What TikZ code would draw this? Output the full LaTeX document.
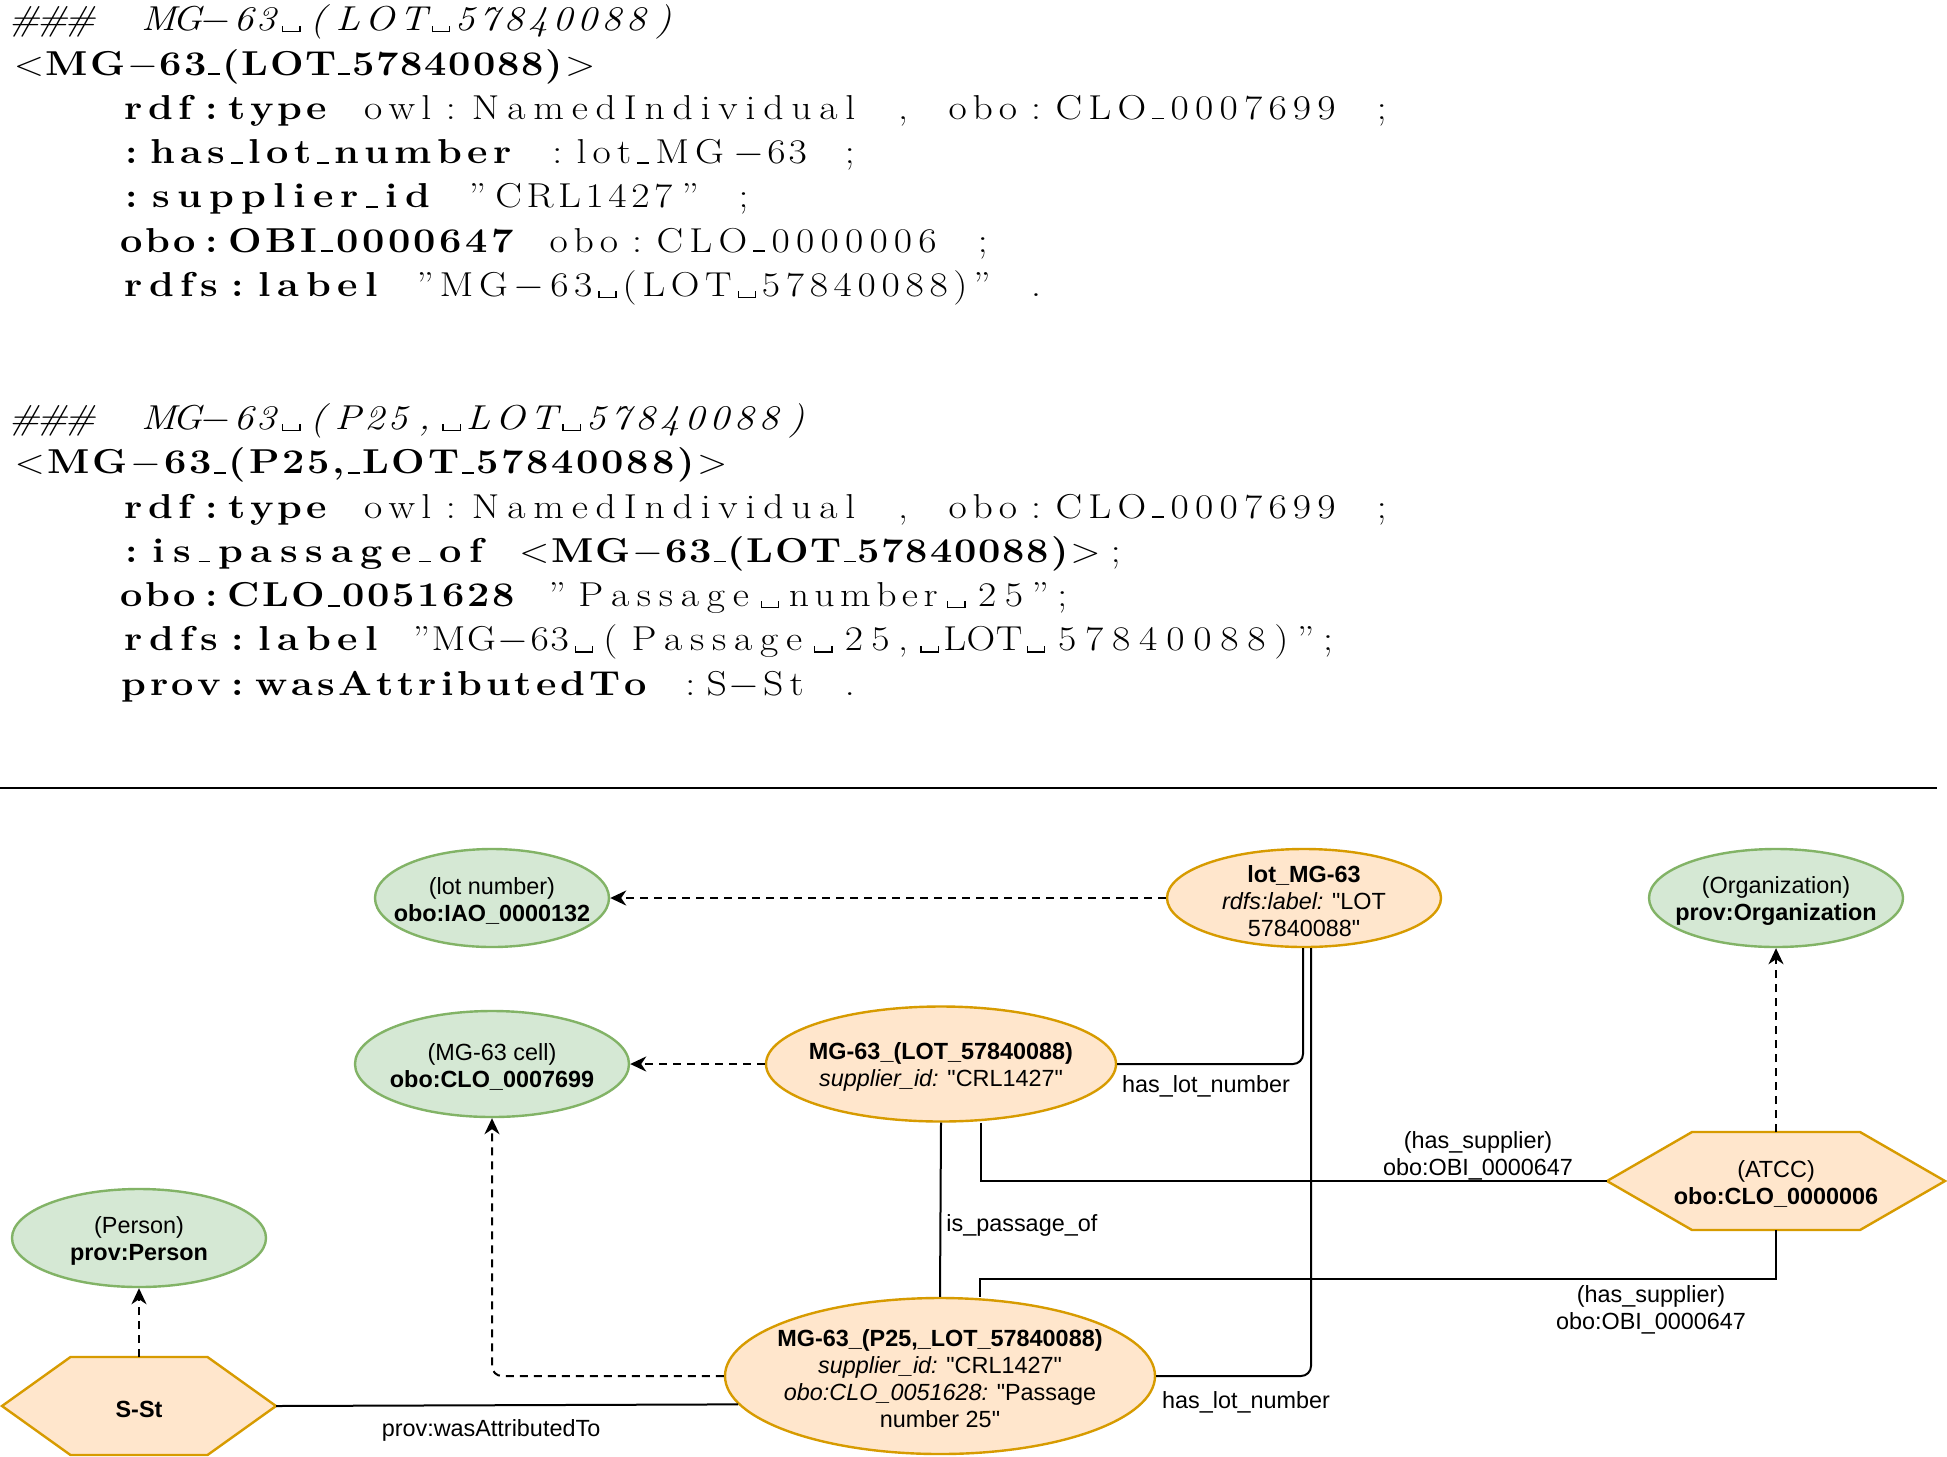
\documentclass[tikz,border=0pt]{standalone}
\usepackage{fontspec}
\usepackage{graphicx}
\newfontfamily\dio{Liberation Sans}
\usetikzlibrary{arrows.meta,shapes.geometric}
\definecolor{grnF}{HTML}{D5E8D4}
\definecolor{grnD}{HTML}{82B366}
\definecolor{ornF}{HTML}{FFE6CC}
\definecolor{ornD}{HTML}{D79B00}
\newlength\colw \setlength\colw{11.565pt}
\newcount\fwn
\makeatletter
% one listings token: n characters spread evenly over n fixed columns
\newcommand\fw[1]{\fwn=0 \@tfor\fw@c:=#1\do{\advance\fwn by 1 }\hbox to \fwn\colw{\hss\@tfor\fw@c:=#1\do{\fw@c\hss}}}
\makeatother
\newcommand\sk{\hbox to \colw{}}
\newcommand\mn{\ensuremath{-}}
\newcommand\myLT{\ensuremath{<}}
\newcommand\myGT{\ensuremath{>}}
\newcommand\us{\rule{0.3em}{0.05em}}
\newcommand\vs{\raisebox{-0.05em}{\rule{0.035em}{0.2em}\rule{0.4em}{0.035em}\rule{0.035em}{0.2em}}}
\newcommand\ind{\sk\sk\sk\sk}
\newcommand\stretched[1]{\scalebox{1.15}[1]{#1}}
\begin{document}
\begin{tikzpicture}[x=0.5pt,y=-0.5pt,
  code/.style={font=\fontsize{17.28}{22}\selectfont, inner sep=0pt, outer sep=0pt, anchor=base west},
  grn/.style={ellipse, draw=grnD, fill=grnF, line width=1.2pt, inner sep=0pt},
  orn/.style={ellipse, draw=ornD, fill=ornF, line width=1.2pt, inner sep=0pt},
  hexo/.style={draw=ornD, fill=ornF, line width=1.2pt},
  hexbox/.style={rectangle, draw=none, inner sep=0pt, outer sep=0pt},
  txt/.style={font=\dio\fontsize{11.7}{13.5}\selectfont, align=center, inner sep=0pt, yshift=-1.5pt},
  ln/.style={line width=1pt, draw=black},
  dsh/.style={ln, dash pattern=on 4pt off 3pt, -{Stealth[length=8pt,width=7.5pt,inset=2.5pt]}},
  lbl/.style={font=\dio\fontsize{11.7}{13.5}\selectfont, align=center, inner sep=0pt, yshift=-1.5pt}
]
\useasboundingbox (0,0) rectangle (1947,1456);
\fill[white] (0,0) rectangle (1947,1456);

% ---------- code listing ----------
\node[code] (c0) at (12,30.7) {\stretched{\itshape\fw{\#\#\#}\sk\sk\fw{MG}\fw{\mn63}\fw{\vs}\fw{(}\fw{LOT\vs57840088}\fw{)}}};
\node[code] (c1) at (12,75) {\stretched{\bfseries\fw{\myLT MG\mn63\us(LOT\us57840088)\myGT}}};
\node[code] (c2) at (12,119.3) {\stretched{\ind{\bfseries\fw{rdf}\fw{:}\fw{type}}\sk\fw{owl}\fw{:}\fw{NamedIndividual}\sk\fw{,}\sk\fw{obo}\fw{:}\fw{CLO\us0007699}\sk\fw{;}}};
\node[code] (c3) at (12,163.6) {\stretched{\ind{\bfseries\fw{:}\fw{has\us lot\us number}}\sk\fw{:}\fw{lot\us MG}\fw{\mn63}\sk\fw{;}}};
\node[code] (c4) at (12,207.9) {\stretched{\ind{\bfseries\fw{:}\fw{supplier\us id}}\sk\fw{”}\fw{CRL1427}\fw{”}\sk\fw{;}}};
\node[code] (c5) at (12,252.2) {\stretched{\ind{\bfseries\fw{obo}\fw{:}\fw{OBI\us0000647}}\sk\fw{obo}\fw{:}\fw{CLO\us0000006}\sk\fw{;}}};
\node[code] (c6) at (12,296.5) {\stretched{\ind{\bfseries\fw{rdfs}\fw{:}\fw{label}}\sk\fw{”MG\mn63\vs(LOT\vs57840088)”}\sk\fw{.}}};

\node[code] (d0) at (12,429.4) {\stretched{\itshape\fw{\#\#\#}\sk\sk\fw{MG}\fw{\mn63}\fw{\vs}\fw{(}\fw{P25}\fw{,}\fw{\vs LOT\vs57840088}\fw{)}}};
\node[code] (d1) at (12,473.7) {\stretched{\bfseries\fw{\myLT MG\mn63\us(P25,\us LOT\us57840088)\myGT}}};
\node[code] (d2) at (12,518) {\stretched{\ind{\bfseries\fw{rdf}\fw{:}\fw{type}}\sk\fw{owl}\fw{:}\fw{NamedIndividual}\sk\fw{,}\sk\fw{obo}\fw{:}\fw{CLO\us0007699}\sk\fw{;}}};
\node[code] (d3) at (12,562.3) {\stretched{\ind{\bfseries\fw{:}\fw{is\us passage\us of}\sk\fw{\myLT MG\mn63\us(LOT\us57840088)\myGT}}\fw{;}}};
\node[code] (d4) at (12,606.6) {\stretched{\ind{\bfseries\fw{obo}\fw{:}\fw{CLO\us0051628}}\sk\fw{”}\fw{Passage}\fw{\vs}\fw{number}\fw{\vs}\fw{25”;}}};
\node[code] (d5) at (12,650.9) {\stretched{\ind{\bfseries\fw{rdfs}\fw{:}\fw{label}}\sk\fw{”MG\mn63}\fw{\vs}\fw{(}\fw{Passage}\fw{\vs}\fw{25,}\fw{\vs}\fw{LOT}\fw{\vs}\fw{57840088)”;}}};
\node[code] (d6) at (12,695.2) {\stretched{\ind{\bfseries\fw{prov}\fw{:}\fw{wasAttributedTo}}\sk\fw{:}\fw{S}\fw{\mn}\fw{St}\sk\fw{.}}};

\draw[line width=1pt] (0,788) -- (1937,788);

% ---------- diagram nodes ----------
\node[grn, minimum width=117pt, minimum height=49pt] (lotnum) at (492,898) {};
\node[txt] (lotnumT) at (lotnum) {(lot number)\\\textbf{obo:IAO\_0000132}};

\node[orn, minimum width=137pt, minimum height=49pt] (lotMG) at (1304,898) {};
\node[txt] (lotMGT) at (lotMG) {\textbf{lot\_MG-63}\\\textit{rdfs:label:} "LOT\\57840088"};

\node[grn, minimum width=127pt, minimum height=49pt] (org) at (1776,898) {};
\node[txt] (orgT) at (org) {(Organization)\\\textbf{prov:Organization}};

\node[grn, minimum width=137pt, minimum height=53pt] (cell) at (492,1064) {};
\node[txt] (cellT) at (cell) {(MG-63 cell)\\\textbf{obo:CLO\_0007699}};

\node[orn, minimum width=175pt, minimum height=57.5pt] (mglot) at (941,1064) {};
\node[txt] (mglotT) at (mglot) {\textbf{MG-63\_(LOT\_57840088)}\\\textit{supplier\_id:} "CRL1427"};

\node[grn, minimum width=127pt, minimum height=49pt] (person) at (139,1238) {};
\node[txt] (personT) at (person) {(Person)\\\textbf{prov:Person}};

\node[orn, minimum width=215pt, minimum height=78pt] (mgp25) at (940,1376) {};
\node[txt] (mgp25T) at (mgp25) {\textbf{MG-63\_(P25,\_LOT\_57840088)}\\\textit{supplier\_id:} "CRL1427"\\\textit{obo:CLO\_0051628:} "Passage\\number 25"};

\node[hexbox, minimum width=169pt, minimum height=49pt] (atcc) at (1776,1181) {};
\draw[hexo] (atcc.west) -- ([xshift=42.5pt]atcc.north west) -- ([xshift=-42.5pt]atcc.north east) -- (atcc.east) -- ([xshift=-42.5pt]atcc.south east) -- ([xshift=42.5pt]atcc.south west) -- cycle;
\node[txt] (atccT) at (atcc) {(ATCC)\\\textbf{obo:CLO\_0000006}};

\node[hexbox, minimum width=137pt, minimum height=49pt] (sst) at (139,1406) {};
\draw[hexo] (sst.west) -- ([xshift=34.25pt]sst.north west) -- ([xshift=-34.25pt]sst.north east) -- (sst.east) -- ([xshift=-34.25pt]sst.south east) -- ([xshift=34.25pt]sst.south west) -- cycle;
\node[txt] (sstT) at (sst) {\textbf{S-St}};

% ---------- connectors ----------
\draw[dsh] (lotMG.west) -- (lotnum.east);
\draw[dsh] (mglot.west) -- (cell.east);
\draw[ln, rounded corners=5pt] (mglot.east) -| ([xshift=-0.5pt]lotMG.south);
\node[lbl] (l1) at (1206,1083) {has\_lot\_number};
\draw[ln] ([xshift=20pt]mglot.south) |- (atcc.west);
\node[lbl] (l2) at (1478,1153) {(has\_supplier)\\obo:OBI\_0000647};
\draw[ln] (mgp25.north) -- (mglot.south);
\node[lbl, anchor=west] (l3) at (946,1222) {is\_passage\_of};
\coordinate (k2) at (1776,1279);
\draw[ln] ([xshift=20pt]mgp25.north) |- (k2) -- (atcc.south);
\node[lbl] (l4) at (1651,1307) {(has\_supplier)\\obo:OBI\_0000647};
\draw[ln, rounded corners=5pt] (mgp25.east) -| ([xshift=3.5pt]lotMG.south);
\node[lbl] (l5) at (1246,1399) {has\_lot\_number};
\draw[dsh, rounded corners=5pt] (mgp25.west) -| (cell.south);
\draw[ln] (sst.east) -- (mgp25.188.6);
\node[lbl] (l6) at (491,1427) {prov:wasAttributedTo};
\draw[dsh] (sst.north) -- (person.south);
\draw[dsh] (atcc.north) -- (org.south);
\end{tikzpicture}
\end{document}
